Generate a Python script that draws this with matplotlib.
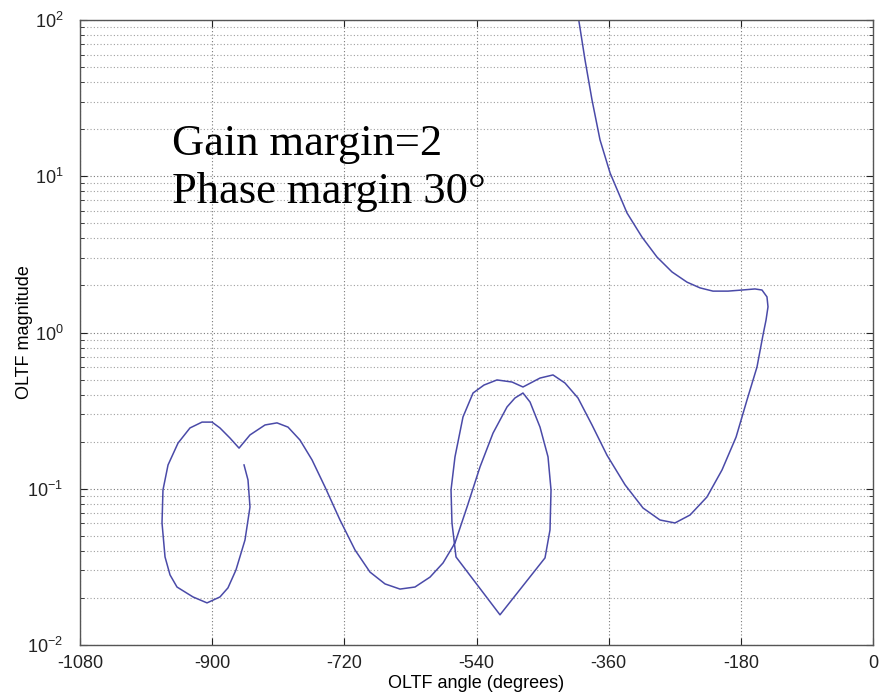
import numpy as np
import matplotlib
matplotlib.use("Agg")
import matplotlib.pyplot as plt
from matplotlib.ticker import LogLocator, NullFormatter

plt.rcParams['font.family'] = ['Liberation Sans', 'DejaVu Sans']
plt.rcParams['mathtext.fontset'] = 'custom'
plt.rcParams['mathtext.rm'] = 'Liberation Sans'
plt.rcParams['axes.unicode_minus'] = False

# open-loop transfer function
phase_deg = [-404, -392.2, -382.7, -371.8, -358.1, -335.0, -314.6, -294.2, -273.7, -253.3,
             -235.6, -217.9, -197.5, -178.4, -160.7, -151.2, -144.4, -143.0, -145.7, -149.8,
             -158.0, -171.6, -186.5, -205.6, -226.1, -249.2, -269.7, -290.1, -313.2, -337.7,
             -362.3, -382.7, -401.8, -419.5, -435.8, -453.5, -476.7, -491.6, -512.1, -529.8,
             -544.7, -558.4, -569.3, -574.7, -573.4, -567.9, -508.0, -446.7, -439.9, -438.5,
             -442.6, -453.5, -467.1, -476.7, -487.6, -498.4, -517.5, -535.2, -552.9, -569.3,
             -585.6, -603.3, -623.8, -644.2, -664.6, -685.1, -705.5, -725.9, -746.3, -764.0,
             -780.4, -796.7, -811.7, -828.0, -848.5, -863.4, -875.7, -889.4, -900.2, -913.8,
             -930.2, -946.5, -960.1, -967.0, -968.3, -964.2, -957.4, -947.9, -926.1, -907.0,
             -889.4, -878.5, -867.6, -855.3, -848.5, -851.2, -856.6]
magnitude = [125, 55.5, 30.8, 17.1, 10.5, 5.82, 4.08, 3.04, 2.44, 2.10,
             1.93, 1.84, 1.84, 1.87, 1.90, 1.87, 1.69, 1.46, 1.20, 0.964,
             0.601, 0.370, 0.214, 0.132, 0.0886, 0.0679, 0.0604, 0.0631, 0.0753, 0.106,
             0.164, 0.256, 0.381, 0.475, 0.535, 0.511, 0.448, 0.482, 0.497, 0.461,
             0.410, 0.288, 0.160, 0.0982, 0.0604, 0.0366, 0.0156, 0.0361, 0.0545, 0.0982,
             0.160, 0.248, 0.359, 0.410, 0.381, 0.334, 0.227, 0.138, 0.0764, 0.0450,
             0.0335, 0.0272, 0.0235, 0.0228, 0.0246, 0.0293, 0.0406, 0.0631, 0.1026, 0.153,
             0.205, 0.248, 0.264, 0.256, 0.221, 0.182, 0.211, 0.245, 0.267, 0.267,
             0.245, 0.196, 0.142, 0.0982, 0.0604, 0.0366, 0.0281, 0.0235, 0.0203, 0.0186,
             0.0203, 0.0232, 0.0302, 0.0470, 0.0764, 0.1138, 0.142]

x_ticks = [-1080, -900, -720, -540, -360, -180, 0]

fig = plt.figure(figsize=(8.86, 6.96), dpi=100)
ax = fig.add_axes([80/886, 51/696, 793/886, 625/696])

ax.plot(phase_deg, magnitude, color='#4a4aa8', lw=1.1, solid_joinstyle='round')

ax.set_yscale('log')
ax.set_xlim(-1080, 0)
ax.set_ylim(1e-2, 1e2)
ax.set_xticks(x_ticks)
ax.yaxis.set_major_locator(LogLocator(base=10, numticks=10))
ax.yaxis.set_minor_locator(LogLocator(base=10, subs=np.arange(2, 10), numticks=20))
ax.yaxis.set_minor_formatter(NullFormatter())

ax.grid(True, which='major', color='#7a7a7a', linestyle=(0, (1, 2)), lw=0.8)
ax.grid(True, which='minor', axis='y', color='#a0a0a0', linestyle=(0, (1, 2)), lw=0.8)

ax.tick_params(which='both', direction='in', top=True, right=True, labelsize=13, colors='#222222')
ax.tick_params(which='major', length=5)
ax.tick_params(which='minor', length=3)
ax.tick_params(axis='x', pad=7)
ax.tick_params(axis='y', pad=12)
for s in ax.spines.values():
    s.set_color('#555555')
    s.set_linewidth(1.0)

ax.set_xlabel('OLTF angle (degrees)', fontsize=13)
ax.set_ylabel('OLTF magnitude', fontsize=13)
ax.xaxis.set_label_coords(0.5, -0.048)
ax.yaxis.set_label_coords(-0.059, 0.5)

ax.text(-954.7, 13.7, 'Gain margin=2', family='Liberation Serif', fontsize=32, va='baseline')
ax.text(-954.7, 6.74, 'Phase margin 30\u00b0', family='Liberation Serif', fontsize=32, va='baseline')

fig.savefig('out.png', dpi=100)
